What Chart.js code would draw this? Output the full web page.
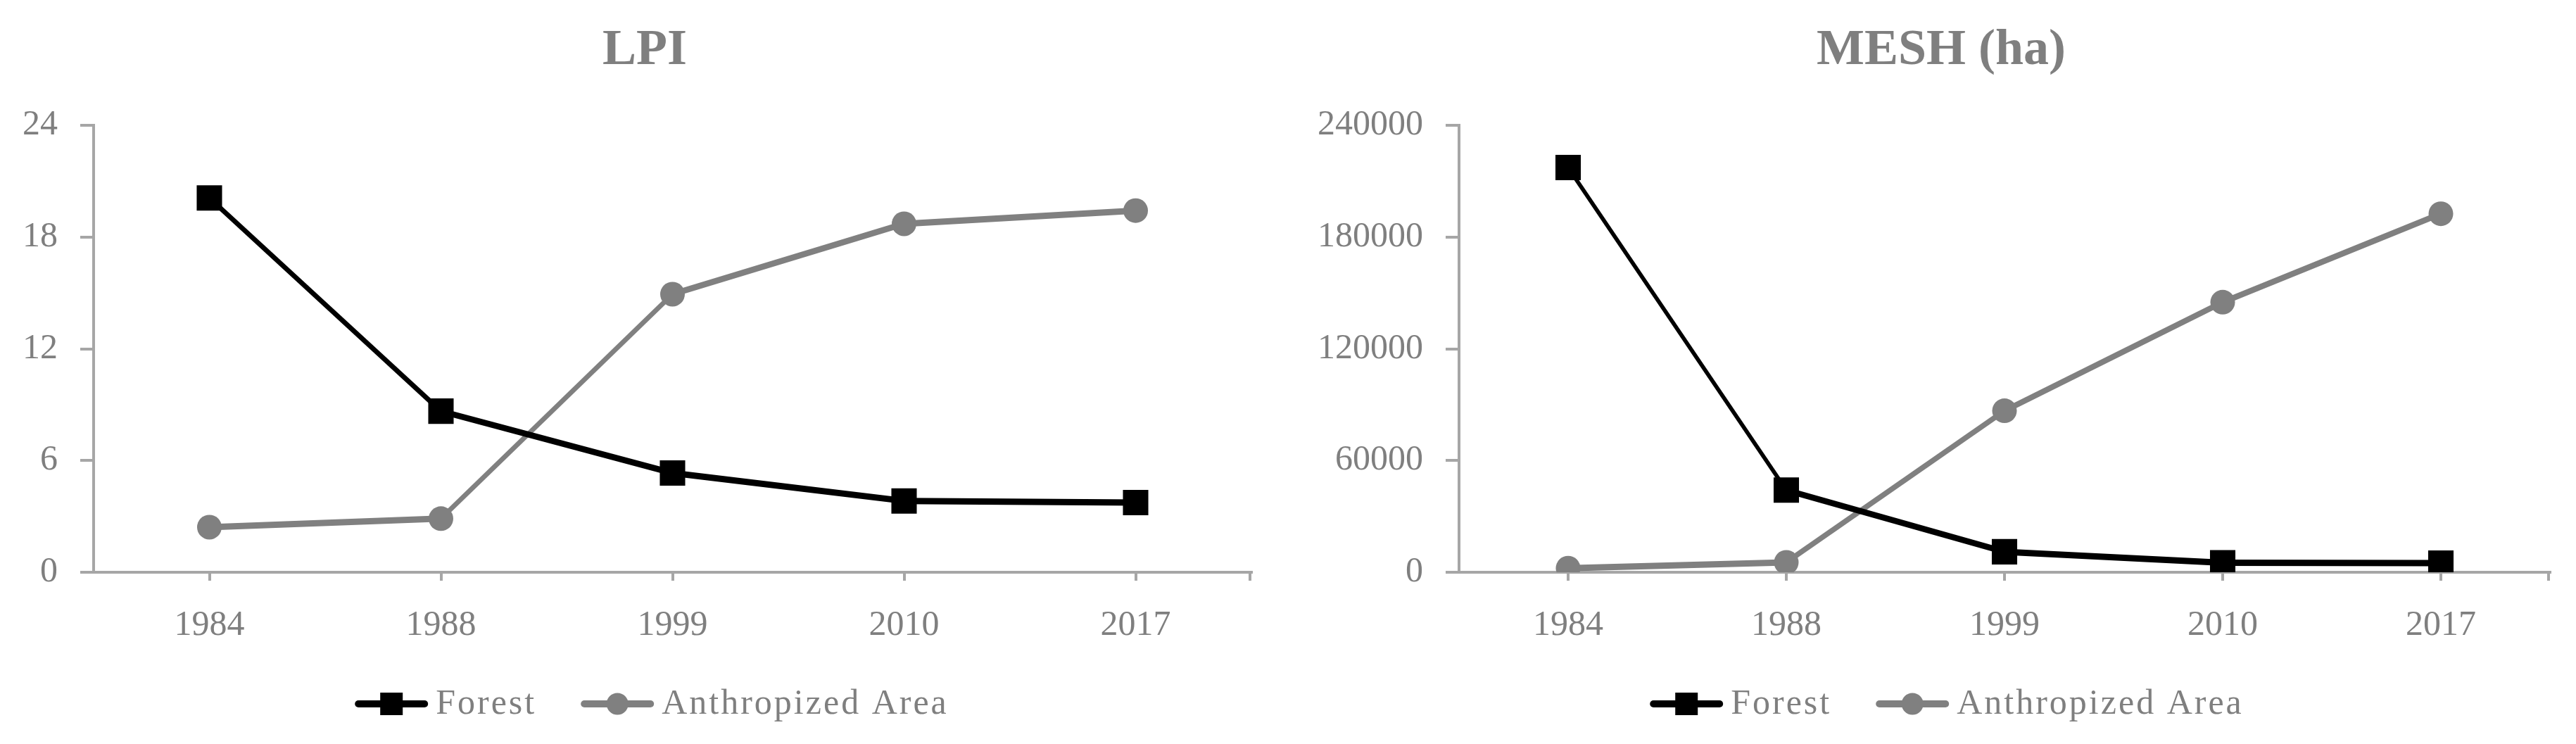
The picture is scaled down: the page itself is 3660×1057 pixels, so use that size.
<!DOCTYPE html>
<html><head><meta charset="utf-8">
<script src="https://cdn.jsdelivr.net/npm/chart.js"></script>
<style>
html,body{margin:0;padding:0;background:#fff;width:3660px;height:1057px;overflow:hidden;}
canvas{position:absolute;top:0;}
#c1{left:0;}
#c2{left:1830px;}
</style></head><body>
<canvas id="c1" width="1830" height="1057"></canvas>
<canvas id="c2" width="1830" height="1057"></canvas>
<script>
// ---- data ----
const years = ['1984', '1988', '1999', '2010', '2017'];
const seriesNames = ['Forest', 'Anthropized Area'];
const lpiTitle = 'LPI';
const lpiForest = [20.1, 8.65, 5.33, 3.83, 3.74];
const lpiAnthro = [2.42, 2.88, 14.93, 18.71, 19.42];
const lpiAxis = [0, 24, 6];            // min, max, step
const meshTitle = 'MESH (ha)';
const meshForest = [217300, 44100, 11000, 5100, 4900];
const meshAnthro = [2200, 5300, 86700, 145000, 192500];
const meshAxis = [0, 240000, 60000];   // min, max, step

// ---- styles ----
const GREY_TEXT = '#7F7F7F';
const AXIS = '#A6A6A6';
const FONT = 'Liberation Serif';

// pen that is thicker for flat segments than for steep ones (as in the reference)
function penWidth(c) {
  const dx = c.p1.x - c.p0.x, dy = c.p1.y - c.p0.y;
  const len = Math.hypot(dx, dy) || 1;
  const cos = dx / len, sin = dy / len;
  return Math.sqrt((9 * cos) ** 2 + (3 * sin) ** 2);
}

const decor = {
  id: 'decor',
  afterDraw(chart, args, opts) {
    const ctx = chart.ctx;
    const a = chart.chartArea;
    ctx.save();
    // title
    ctx.font = 'bold 72px "' + FONT + '"';
    ctx.fillStyle = GREY_TEXT;
    ctx.textAlign = 'center';
    ctx.textBaseline = 'alphabetic';
    ctx.fillText(opts.title, opts.titleX, 91);
    // end tick at the right end of the category axis
    ctx.strokeStyle = AXIS;
    ctx.lineWidth = 4;
    ctx.beginPath();
    ctx.moveTo(a.right - 2, a.bottom);
    ctx.lineTo(a.right - 2, a.bottom + 12);
    ctx.stroke();
    // legend (line + marker + label)
    ctx.font = '50px "' + FONT + '"';
    if ('letterSpacing' in ctx) ctx.letterSpacing = '3px';
    const items = chart.data.datasets.map(ds => ({ ds, tw: ctx.measureText(ds.label).width }));
    const lineLen = 104, gap = 11, itemGap = 63;
    const total = items.reduce((s, it) => s + lineLen + gap + it.tw, 0) + itemGap * (items.length - 1);
    let x = opts.legendX - total / 2;
    const y = 1000;
    items.forEach(it => {
      const ds = it.ds;
      ctx.strokeStyle = ds.borderColor;
      ctx.lineWidth = 10;
      ctx.lineCap = 'round';
      ctx.beginPath();
      ctx.moveTo(x + 5, y);
      ctx.lineTo(x + lineLen - 5, y);
      ctx.stroke();
      ctx.fillStyle = ds.pointBackgroundColor;
      const cx = x + lineLen / 2;
      if (ds.pointStyle === 'rect') {
        ctx.fillRect(cx - 16, y - 16, 32, 32);
      } else {
        ctx.beginPath();
        ctx.arc(cx, y, 15.5, 0, Math.PI * 2);
        ctx.fill();
      }
      ctx.fillStyle = GREY_TEXT;
      ctx.textBaseline = 'middle';
      ctx.textAlign = 'left';
      ctx.fillText(ds.label, x + lineLen + gap, y + 1);
      x += lineLen + gap + it.tw + itemGap;
    });
    ctx.restore();
  }
};

function makeChart(id, title, forest, anthro, axis, padRight, yWidth, titleX, legendX) {
  const tickFont = { family: FONT, size: 50 };
  return new Chart(document.getElementById(id), {
    type: 'line',
    data: {
      labels: years,
      datasets: [
        {
          label: seriesNames[0], data: forest,
          borderColor: '#000000', backgroundColor: '#000000',
          borderWidth: 9, tension: 0,
          segment: { borderWidth: penWidth },
          pointStyle: 'rect', pointRadius: 25.5, pointBorderWidth: 0,
          pointBackgroundColor: '#000000'
        },
        {
          label: seriesNames[1], data: anthro,
          borderColor: '#808080', backgroundColor: '#808080',
          borderWidth: 9, tension: 0,
          segment: { borderWidth: penWidth },
          pointStyle: 'circle', pointRadius: 17.5, pointBorderWidth: 0,
          pointBackgroundColor: '#808080'
        }
      ]
    },
    options: {
      responsive: false,
      animation: false,
      devicePixelRatio: 1,
      events: [],
      layout: { padding: { left: 0, right: padRight, top: 178, bottom: 138 } },
      plugins: {
        legend: { display: false },
        tooltip: { enabled: false },
        title: { display: false },
        decor: { title: title, titleX: titleX, legendX: legendX }
      },
      scales: {
        x: {
          type: 'category',
          offset: true,
          afterFit(s) { s.height = 106; },
          grid: { offset: false, drawOnChartArea: false, drawTicks: true, tickLength: 12, color: AXIS, lineWidth: 4 },
          border: { display: true, color: AXIS, width: 4 },
          ticks: { color: GREY_TEXT, font: tickFont, padding: 34, maxRotation: 0, autoSkip: false }
        },
        y: {
          min: axis[0], max: axis[1],
          afterFit(s) { s.width = yWidth; },
          grid: { drawOnChartArea: false, drawTicks: true, tickLength: 19, color: AXIS, lineWidth: 4 },
          border: { display: true, color: AXIS, width: 4 },
          ticks: { stepSize: axis[2], color: GREY_TEXT, font: tickFont, padding: 32, callback: v => String(v) }
        }
      }
    },
    plugins: [decor]
  });
}

makeChart('c1', lpiTitle, lpiForest, lpiAnthro, lpiAxis, 52, 133, 916, 926);
makeChart('c2', meshTitle, meshForest, meshAnthro, meshAxis, 37, 243, 928, 936);
</script>
</body></html>
